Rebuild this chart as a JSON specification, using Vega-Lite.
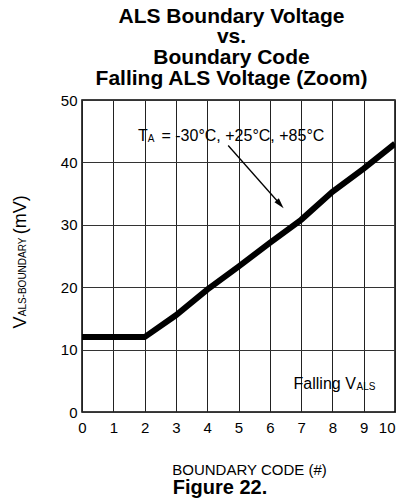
{
  "$schema": "https://vega.github.io/schema/vega-lite/v6.json",
  "width": 313,
  "height": 312,
  "autosize": {"type": "none"},
  "padding": {"left": 82, "top": 100, "right": 7, "bottom": 92},
  "background": "white",
  "config": {
    "font": "Liberation Sans",
    "view": {"stroke": "black", "strokeWidth": 1.5}
  },
  "title": {
    "text": ["ALS Boundary Voltage", "vs.", "Boundary Code", "Falling ALS Voltage (Zoom)"],
    "font": "Liberation Sans",
    "fontSize": 21,
    "fontWeight": "bold",
    "lineHeight": 20.8,
    "anchor": "middle",
    "offset": 4,
    "dx": -7,
    "color": "black"
  },
  "datasets": {
    "curve": [
      {"x": 0, "y": 12},
      {"x": 1, "y": 12},
      {"x": 2, "y": 12},
      {"x": 3, "y": 15.5},
      {"x": 4, "y": 19.6},
      {"x": 5, "y": 23.3},
      {"x": 6, "y": 27.1},
      {"x": 7, "y": 30.8},
      {"x": 8, "y": 35.3},
      {"x": 9, "y": 39.0},
      {"x": 10, "y": 43.0}
    ],
    "arrow": [{"x": 4.67, "y": 42.7, "x2": 6.33, "y2": 33.3}],
    "arrowhead": [{"x": 6.33, "y": 33.3}],
    "ann": [
      {"x": 1.79, "y": 43.5, "label": "T"},
      {"x": 2.54, "y": 43.5, "label": "= -30°C, +25°C, +85°C"},
      {"x": 6.76, "y": 3.72, "label": "Falling V"}
    ],
    "annsub": [
      {"x": 2.1, "y": 43.3, "label": "A"},
      {"x": 8.77, "y": 3.48, "label": "ALS"}
    ],
    "ytitle": [
      {"x": -1.8, "y": 13.4, "label": "V"},
      {"x": -1.8, "y": 28.5, "label": "(mV)"}
    ],
    "ytitlesub": [
      {"x": -1.8, "y": 15.34, "label": "ALS-BOUNDARY"}
    ],
    "figure": [{"x": 4.41, "y": -13.15, "label": "Figure 22."}]
  },
  "encoding": {
    "x": {
      "field": "x",
      "type": "quantitative",
      "scale": {"domain": [0, 10], "nice": false, "zero": false},
      "axis": {
        "title": "BOUNDARY CODE (#)",
        "titleFont": "Liberation Sans",
        "titleFontSize": 15,
        "titleFontWeight": "normal",
        "titleColor": "black",
        "titleBaseline": "alphabetic",
        "titleY": 62,
        "titleX": 167,
        "titleAnchor": "middle",
        "values": [0, 1, 2, 3, 4, 5, 6, 7, 8, 9, 10],
        "format": "d",
        "labelFontSize": 15,
        "labelColor": "black",
        "labelPadding": 8,
        "labelAlign": {"condition": {"test": "datum.value == 10", "value": "right"}, "value": "center"},
        "ticks": false,
        "domain": false,
        "grid": true,
        "gridColor": "#222222",
        "gridWidth": 1,
        "gridOpacity": 1
      }
    },
    "y": {
      "field": "y",
      "type": "quantitative",
      "scale": {"domain": [0, 50], "nice": false},
      "axis": {
        "title": null,
        "values": [0, 10, 20, 30, 40, 50],
        "labelFontSize": 15,
        "labelColor": "black",
        "labelPadding": 5,
        "ticks": false,
        "domain": false,
        "grid": true,
        "gridColor": "#333333",
        "gridWidth": 1,
        "gridOpacity": 1
      }
    }
  },
  "layer": [
    {
      "data": {"name": "curve"},
      "mark": {"type": "line", "color": "black", "strokeWidth": 6, "clip": true}
    },
    {
      "data": {"name": "arrow"},
      "mark": {"type": "rule", "color": "black", "strokeWidth": 1.3},
      "encoding": {"x2": {"field": "x2"}, "y2": {"field": "y2"}}
    },
    {
      "data": {"name": "arrowhead"},
      "mark": {"type": "point", "shape": "M0,-1L0.55,1L-0.55,1Z", "angle": 138.6, "size": 110, "filled": true, "color": "black", "opacity": 1}
    },
    {
      "data": {"name": "ann"},
      "mark": {"type": "text", "align": "left", "baseline": "alphabetic", "fontSize": 16, "color": "black"},
      "encoding": {"text": {"field": "label"}}
    },
    {
      "data": {"name": "annsub"},
      "mark": {"type": "text", "align": "left", "baseline": "alphabetic", "fontSize": 10, "color": "black"},
      "encoding": {"text": {"field": "label"}}
    },
    {
      "data": {"name": "ytitle"},
      "mark": {"type": "text", "align": "left", "baseline": "alphabetic", "angle": 270, "fontSize": 18, "color": "black"},
      "encoding": {"text": {"field": "label"}}
    },
    {
      "data": {"name": "ytitlesub"},
      "mark": {"type": "text", "align": "left", "baseline": "alphabetic", "angle": 270, "fontSize": 10, "color": "black"},
      "encoding": {"text": {"field": "label"}}
    },
    {
      "data": {"name": "figure"},
      "mark": {"type": "text", "align": "center", "baseline": "alphabetic", "fontSize": 20, "fontWeight": "bold", "color": "black"},
      "encoding": {"text": {"field": "label"}}
    }
  ]
}
